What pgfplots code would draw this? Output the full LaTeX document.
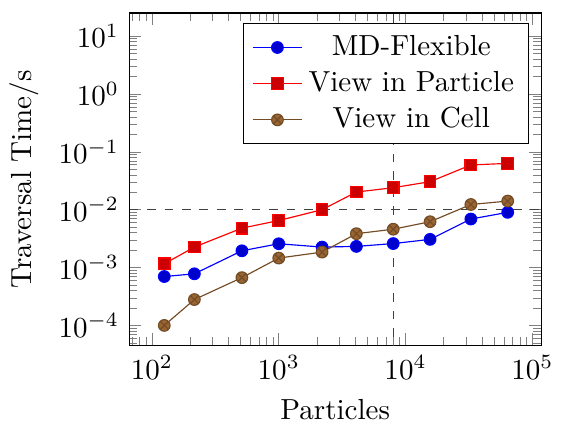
\documentclass[border=0pt]{standalone}
\usepackage{pgfplots}
\pgfplotsset{compat=1.18}
\begin{document}
\begin{tikzpicture}
\begin{loglogaxis}[
  scale only axis,
  width=142pt, height=114.5pt,
  xmin=66, xmax=1.18e5,
  ymin=4.5e-5, ymax=25,
  xlabel={Particles},
  ylabel={Traversal Time/s},
  legend pos=north east,
]
\addplot coordinates {(125,7e-4) (216,7.8e-4) (512,1.95e-3) (1000,2.58e-3) (2197,2.26e-3) (4096,2.32e-3) (8000,2.6e-3) (15625,3.07e-3) (32768,6.9e-3) (64000,9e-3)};
\addlegendentry{MD-Flexible}
\addplot coordinates {(125,1.16e-3) (216,2.26e-3) (512,4.8e-3) (1000,6.5e-3) (2197,0.01) (4096,0.0202) (8000,0.024) (15625,0.0305) (32768,0.0593) (64000,0.0632)};
\addlegendentry{View in Particle}
\addplot coordinates {(125,1e-4) (216,2.8e-4) (512,6.7e-4) (1000,1.46e-3) (2197,1.85e-3) (4096,3.85e-3) (8000,4.6e-3) (15625,6.2e-3) (32768,0.0123) (64000,0.0141)};
\addlegendentry{View in Cell}
\addplot[dashed, black!75, forget plot] coordinates {(8000,1e-6) (8000,1e3)};
\addplot[dashed, black!75, forget plot] coordinates {(10,0.01) (1e6,0.01)};
\end{loglogaxis}
% small margin like the reference
\path ([yshift=4.5pt]current axis.north west);
\end{tikzpicture}
\end{document}
